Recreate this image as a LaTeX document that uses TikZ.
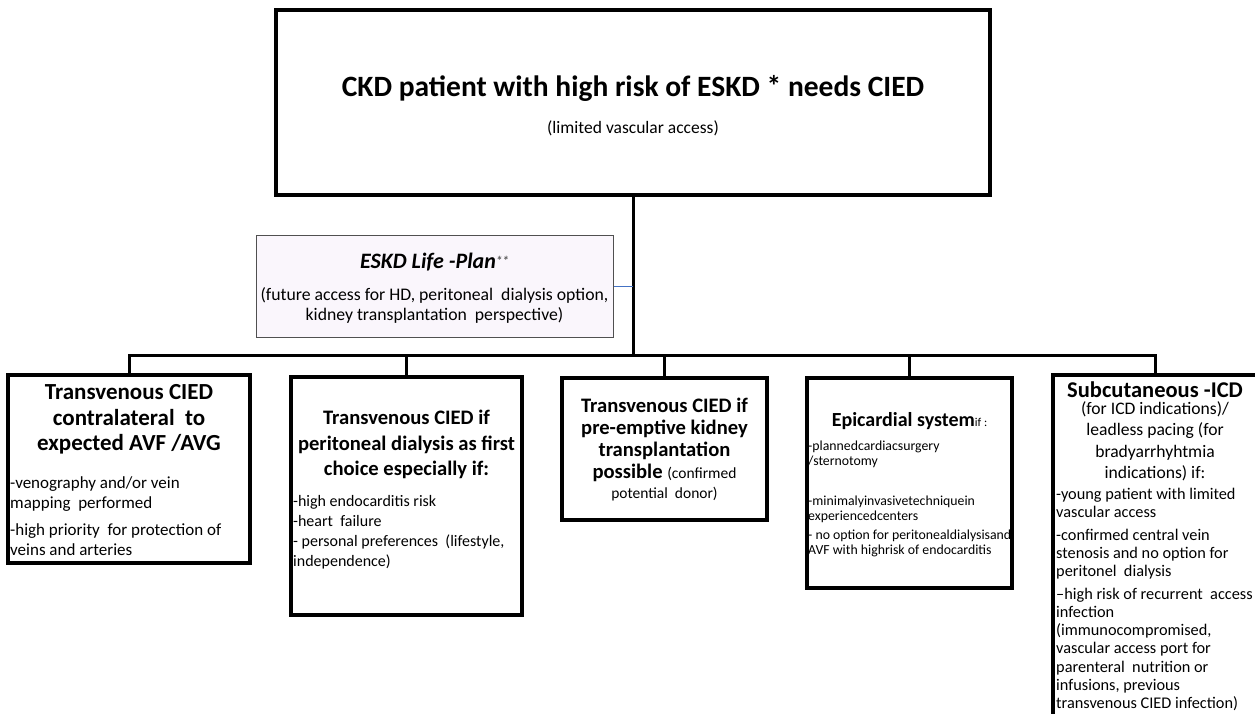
\documentclass[tikz,border=0pt]{standalone}
\usepackage{fontspec}
\setmainfont{Carlito}
\definecolor{lifefill}{RGB}{250,246,252}
\definecolor{lifeline}{RGB}{80,80,80}
\definecolor{bluelink}{RGB}{68,114,196}
\definecolor{stargray}{RGB}{90,90,90}
\begin{document}
\begin{tikzpicture}[x=1pt,y=-1pt,
  box/.style={draw, line width=3.2pt, inner sep=0pt},
  lifebox/.style={draw=lifeline, line width=1pt, fill=lifefill, inner sep=0pt},
  wire/.style={line width=3pt},
  ctxt/.style={inner sep=0pt, align=center, anchor=north},
  ltxt/.style={inner sep=0pt, align=left, anchor=north west}]
\useasboundingbox (0,0) rectangle (1255,713);
\clip (0,0) rectangle (1255,713);

% top box
\node[box, minimum width=714pt, minimum height=185pt] (top) at (633,102.5) {};
\node[inner sep=0pt, font=\bfseries\fontsize{29.5}{33}\selectfont] (title) at (633,88) {CKD patient with high risk of ESKD * needs CIED};
\node[inner sep=0pt, font=\fontsize{17.5}{20}\selectfont] (sub) at (633,128) {(limited vascular access)};

% life plan box
\node[lifebox, minimum width=357pt, minimum height=102pt] (life) at (434.5,286) {};
\node[inner sep=0pt, font=\bfseries\itshape\fontsize{22}{25}\selectfont] (lifet) at (434.5,262) {ESKD Life -Plan\textcolor{stargray}{\raisebox{0.25ex}{\fontsize{13}{14}\selectfont **}}};
\node[ctxt, font=\fontsize{17.7}{20}\selectfont] (lifeb) at (434.5,287.5) {(future access for HD, peritoneal\ \ dialysis option,\\kidney transplantation\ \ perspective)};

% option boxes
\node[box, minimum width=242pt, minimum height=188pt] (b1) at (129,469) {};
\node[box, minimum width=231pt, minimum height=238pt] (b2) at (406.5,496) {};
\node[box, minimum width=205pt, minimum height=142pt] (b3) at (664.5,449) {};
\node[box, minimum width=205pt, minimum height=210pt] (b4) at (909.5,483) {};
\node[box, minimum width=204pt, minimum height=341pt] (b5) at (1155,545.5) {};

% connectors
\coordinate (bus) at (633,355);
\draw[wire] (top.south) -- (bus);
\draw[bluelink, line width=1pt] (life.east) -- (life.east -| top.south);
\draw[wire] (b1.north) |- (bus);
\draw[wire] (b2.north) |- (bus);
\draw[wire] (b3.north) |- (bus);
\draw[wire] (b4.north) |- (bus);
\draw[wire] (b5.north) |- (bus);

% box 1
\node[ctxt, font=\bfseries\fontsize{23}{25.5}\selectfont] (t1) at (129,384.5) {Transvenous CIED\\contralateral\ \ to\\expected AVF /AVG};
\node[ltxt, font=\fontsize{17}{20}\selectfont] (d1) at (10,476) {-venography and/or vein\\mapping\ \ performed\\[7pt]-high priority\ \ for protection of\\veins and arteries};

% box 2
\node[ctxt, font=\bfseries\fontsize{20.6}{25.5}\selectfont] (t2) at (406.5,410) {Transvenous CIED if\\peritoneal dialysis as first\\choice especially if:};
\node[ltxt, font=\fontsize{16}{20}\selectfont] (d2) at (293,495.5) {-high endocarditis risk\\-heart\ \ failure\\-\ personal preferences\ \ (lifestyle,\\independence)};

% box 3
\node[ctxt, font=\bfseries\fontsize{20.6}{22}\selectfont] (t3) at (664.5,397.5) {Transvenous CIED if\\pre-emptive kidney\\transplantation\\possible {\mdseries\fontsize{15.5}{20}\selectfont (confirmed}\\[-2pt]{\mdseries\fontsize{15.5}{20}\selectfont potential\ \ donor)}};

% box 4
\node[inner sep=0pt, font=\bfseries\fontsize{20}{24}\selectfont] (t4) at (909.5,421) {Epicardial system{\mdseries\fontsize{12}{14}\selectfont if :}};
\node[ltxt, font=\fontsize{13.8}{14.8}\selectfont] (d4) at (808,441) {-plannedcardiacsurgery\\/sternotomy\\[25pt]-minimalyinvasivetechniquein\\experiencedcenters\\[5pt]-\ no option for peritonealdialysisand\\AVF with highrisk of endocarditis};

% box 5
\node[inner sep=0pt, font=\bfseries\fontsize{22.5}{25}\selectfont] (t5) at (1155,390) {Subcutaneous -ICD};
\node[ctxt, font=\fontsize{17.6}{21.5}\selectfont] (s5) at (1155,401) {(for ICD indications)/\\leadless pacing (for\\bradyarrhyhtmia\\indications) if:};
\node[ltxt, font=\fontsize{16.3}{18.3}\selectfont] (d5) at (1056,488) {-young patient with limited\\vascular access\\[4pt]-confirmed central vein\\stenosis and no option for\\peritonel\ \ dialysis\\[4pt]–high risk of recurrent\ \ access\\infection\\(immunocompromised,\\vascular access port for\\parenteral\ \ nutrition or\\infusions, previous\\transvenous CIED infection)};
\end{tikzpicture}
\end{document}
